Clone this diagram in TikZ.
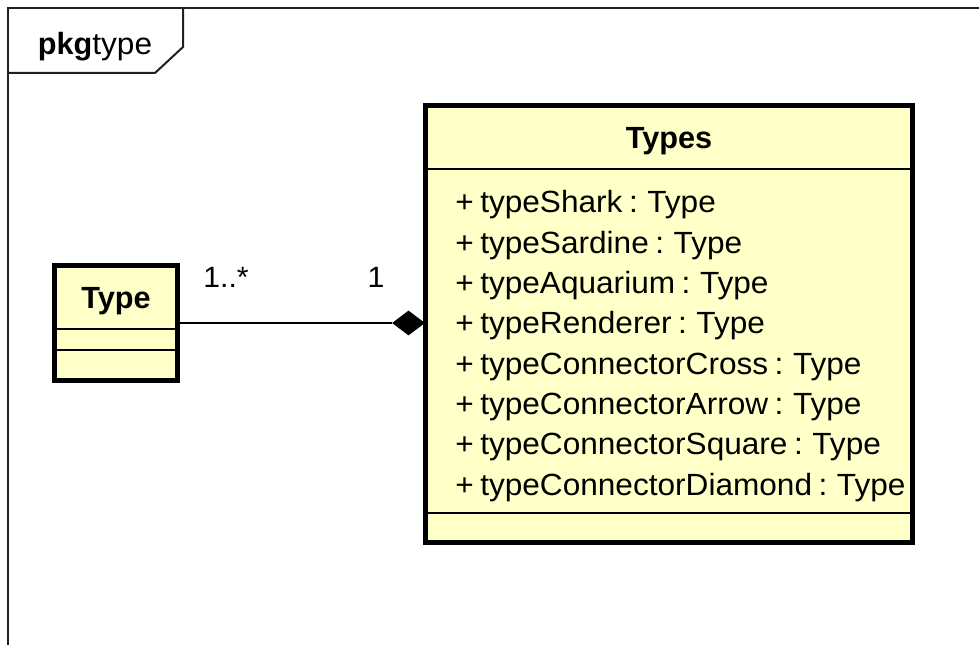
\documentclass[tikz,border=0pt]{standalone}
\usepackage{fontspec}
\setmainfont{Liberation Sans}
\newfontfamily\attrfont{Liberation Sans}[WordSpace=0.75, FakeStretch=1.03]
\usetikzlibrary{shapes.geometric}
\definecolor{classfill}{HTML}{FFFFC8}
\definecolor{framecol}{HTML}{202020}
\tikzset{
  classbox/.style={draw=black, fill=classfill, line width=3.75pt, inner sep=0pt},
  sepline/.style={draw=black, line width=1.5pt},
  frameline/.style={draw=framecol, line width=1.5pt},
  titletext/.style={font=\fontsize{23}{26}\selectfont\bfseries, inner sep=0pt, anchor=base},
  attrtext/.style={font=\attrfont\fontsize{23}{26}\selectfont, inner sep=0pt, anchor=base west},
  multtext/.style={font=\attrfont\fontsize{22}{26}\selectfont, inner sep=0pt, anchor=base},
  compdiamond/.style={diamond, fill=black, inner sep=0pt, minimum width=24.75pt, minimum height=18.75pt}
}
\begin{document}
\begin{tikzpicture}[x=0.75pt, y=-0.75pt]
\useasboundingbox (0,0) rectangle (979,645);

% package frame and its name tab
\draw[frameline] (8,645) -- (8,8) -- (979,8);
\draw[frameline] (183,8) -- (183,47) -- (155,73) -- (8,73);
\node[inner sep=0pt, anchor=base] (pkgname) at (95,55)
  {\fontsize{23}{26}\selectfont\textbf{pkg}{\attrfont type}};

% class Type
\node[classbox, minimum width=92.25pt, minimum height=86.25pt] (typebox) at (116,323) {};
\draw[sepline] (typebox.west |- 0,329) -- (typebox.east |- 0,329);
\draw[sepline] (typebox.west |- 0,350) -- (typebox.east |- 0,350);
\node[titletext] (typename) at (116,309) {Type};

% class Types
\node[classbox, minimum width=365.25pt, minimum height=327.75pt] (typesbox) at (669,324) {};
\draw[sepline] (typesbox.west |- 0,169) -- (typesbox.east |- 0,169);
\draw[sepline] (typesbox.west |- 0,513) -- (typesbox.east |- 0,513);
\node[titletext] (typesname) at (669,149) {Types};
\node[attrtext] (a1) at (455,213) {+ typeShark : Type};
\node[attrtext] (a2) at (455,253.3) {+ typeSardine : Type};
\node[attrtext] (a3) at (455,293.6) {+ typeAquarium : Type};
\node[attrtext] (a4) at (455,333.9) {+ typeRenderer : Type};
\node[attrtext] (a5) at (455,374.1) {+ typeConnectorCross : Type};
\node[attrtext] (a6) at (455,414.4) {+ typeConnectorArrow : Type};
\node[attrtext] (a7) at (455,454.7) {+ typeConnectorSquare : Type};
\node[attrtext] (a8) at (455,495) {+ typeConnectorDiamond : Type};

% composition: Types (1) owns Type (1..*)
\node[compdiamond] (comp) at (408.5,323) {};
\draw[line width=1.5pt] (typebox.east |- comp.west) -- (comp.west);
\node[multtext] (m1) at (226,288) {1..*};
\node[multtext] (m2) at (376,288) {1};
\end{tikzpicture}
\end{document}
